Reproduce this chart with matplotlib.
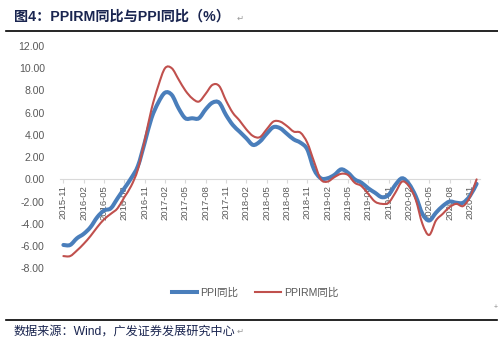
import matplotlib
matplotlib.use('Agg')
import matplotlib.pyplot as plt
import numpy as np
from matplotlib.path import Path
from matplotlib.patches import PathPatch
from matplotlib.lines import Line2D

plt.rcParams['font.family'] = ['Liberation Sans', 'Noto Sans CJK SC', 'DejaVu Sans']

# monthly data 2015-11 .. 2020-12
months = []
y, m = 2015, 11
while (y, m) <= (2020, 12):
    months.append(f'{y}-{m:02d}')
    m += 1
    if m > 12:
        y, m = y + 1, 1

ppi = [-5.9, -5.9, -5.3, -4.9, -4.3, -3.4, -2.8, -2.6, -1.7, -0.8, 0.1, 1.2,
       3.3, 5.5, 6.9, 7.8, 7.6, 6.4, 5.5, 5.5, 5.5, 6.3, 6.9, 6.9, 5.8, 4.9,
       4.3, 3.7, 3.1, 3.4, 4.1, 4.7, 4.6, 4.1, 3.6, 3.3, 2.7, 0.9, 0.1, 0.1,
       0.4, 0.9, 0.6, 0.0, -0.3, -0.8, -1.2, -1.6, -1.4, -0.5, 0.1, -0.4,
       -1.5, -3.1, -3.7, -3.0, -2.4, -2.0, -2.1, -2.1, -1.5, -0.4]
ppirm = [-6.9, -6.9, -6.4, -5.8, -5.1, -4.3, -3.6, -3.1, -2.6, -1.6, -0.6, 0.9,
         3.5, 6.3, 8.4, 10.0, 10.0, 9.0, 8.0, 7.3, 7.0, 7.7, 8.5, 8.4, 7.1, 6.0,
         5.3, 4.5, 3.9, 3.8, 4.5, 5.2, 5.2, 4.8, 4.3, 4.2, 3.3, 1.6, 0.0, -0.2,
         0.2, 0.5, 0.4, -0.3, -0.6, -1.3, -2.0, -2.2, -2.1, -1.2, -0.2, -0.6,
         -1.8, -4.0, -5.0, -3.7, -3.1, -2.5, -2.2, -2.4, -1.6, 0.0]

tick_idx = list(range(0, len(months), 3))
tick_labels = [months[i] for i in tick_idx]
yticks = list(range(-8, 13, 2))


def smooth_path(xs, ys):
    # Excel-style smoothed line: Catmull-Rom segments as cubic Beziers
    pts = np.column_stack([xs, ys]).astype(float)
    n = len(pts)
    verts = [pts[0]]
    codes = [Path.MOVETO]
    for i in range(n - 1):
        p0 = pts[i - 1] if i > 0 else pts[i]
        p1 = pts[i]
        p2 = pts[i + 1]
        p3 = pts[i + 2] if i + 2 < n else pts[i + 1]
        c1 = p1 + (p2 - p0) / 6.0
        c2 = p2 - (p3 - p1) / 6.0
        verts += [c1, c2, p2]
        codes += [Path.CURVE4] * 3
    return Path(verts, codes)


fig = plt.figure(figsize=(4.98, 3.43), dpi=100)
ax = fig.add_axes([60 / 498, 74.7 / 343, 420 / 498, 222.3 / 343])

blue = '#4A7EBB'
red = '#C0504D'
x = np.arange(len(months))
ax.add_patch(PathPatch(smooth_path(x, ppi), fill=False, edgecolor=blue,
                       linewidth=2.9, capstyle='round', zorder=3))
ax.add_patch(PathPatch(smooth_path(x, ppirm), fill=False, edgecolor=red,
                       linewidth=1.5, capstyle='round', zorder=4))

ax.set_xlim(-0.5, len(months) - 0.5)
ax.set_ylim(-8, 12)
ax.set_yticks(yticks)
ax.set_yticklabels([f'{v:.2f}' for v in yticks], fontsize=7.6, color='#595959')
ax.tick_params(axis='y', length=0, pad=11)

for s in ['top', 'right', 'left']:
    ax.spines[s].set_visible(False)
ax.spines['bottom'].set_position(('data', 0))
ax.spines['bottom'].set_color('#d9d9d9')
ax.spines['bottom'].set_linewidth(0.8)
ax.set_xticks(tick_idx)
ax.set_xticklabels(tick_labels, rotation=90, fontsize=6.8, color='#595959')
ax.tick_params(axis='x', length=3, color='#d9d9d9', pad=1)

handles = [Line2D([], [], color=blue, linewidth=2.9),
           Line2D([], [], color=red, linewidth=1.5)]
fig.legend(handles, ['PPI同比', 'PPIRM同比'], loc='center',
           bbox_to_anchor=(255 / 498, 1 - 293 / 343), ncol=2, frameon=False,
           fontsize=7.6, handlelength=2.4, handletextpad=0.3,
           columnspacing=1.6, labelcolor='#595959')

navy = '#1a2550'
fig.text(14 / 498, 1 - 17 / 343, '图4：PPIRM同比与PPI同比（%）', fontsize=10.2,
         fontweight='bold', color=navy, va='center', ha='left')
fig.text(237 / 498, 1 - 18 / 343, '↵', fontsize=6, color='#999999',
         va='center', ha='left', family=['DejaVu Sans'])
fig.add_artist(Line2D([6 / 498, 1.0], [1 - 30.7 / 343] * 2, color='black',
                      linewidth=1.2))
fig.add_artist(Line2D([6 / 498, 497 / 498], [1 - 320 / 343] * 2,
                      color='black', linewidth=1.2))
fig.text(14 / 498, 1 - 331.5 / 343, '数据来源：Wind，广发证券发展研究中心',
         fontsize=8.7, color=navy, va='center', ha='left')
fig.text(237 / 498, 1 - 331 / 343, '↵', fontsize=6, color='#999999',
         va='center', ha='left', family=['DejaVu Sans'])
fig.text(496 / 498, 1 - 308 / 343, '+', fontsize=5, color='#888888',
         va='center', ha='center')

fig.savefig('out.png', dpi=100)
